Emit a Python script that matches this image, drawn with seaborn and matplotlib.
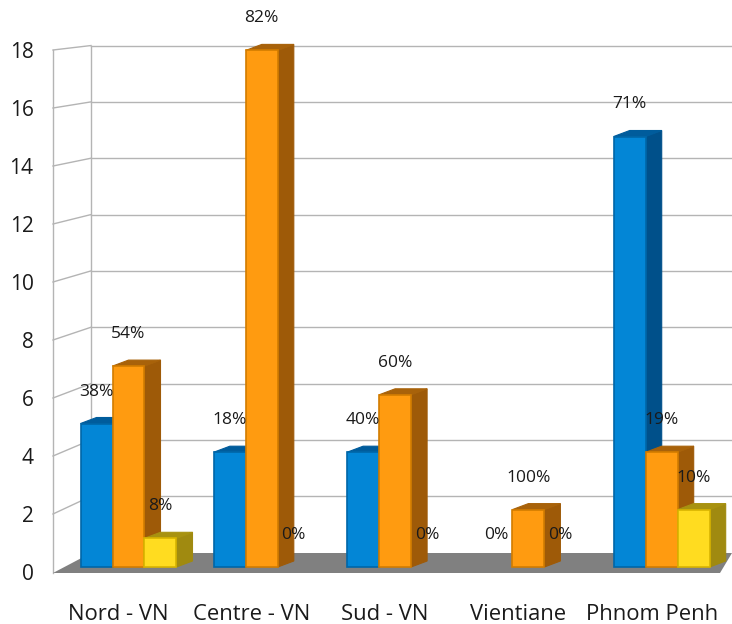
import matplotlib
matplotlib.use("Agg")
import matplotlib.pyplot as plt
import seaborn as sns
import pandas as pd
import numpy as np
from matplotlib.patches import Polygon
from matplotlib.transforms import Affine2D

regions = ["Nord - VN", "Centre - VN", "Sud - VN", "Vientiane", "Phnom Penh"]
series = ["Série 1", "Série 2", "Série 3"]
serie1 = [5, 4, 4, 0, 15]
serie2 = [7, 18, 6, 2, 4]
serie3 = [1, 0, 0, 0, 2]
pct1 = ["38%", "18%", "40%", "0%", "71%"]
pct2 = ["54%", "82%", "60%", "100%", "19%"]
pct3 = ["8%", "0%", "0%", "0%", "10%"]
yticks = list(range(0, 19, 2))

front = ["#0386d6", "#ff9b10", "#ffdc20"]
edges = ["#0066a8", "#d27c00", "#d8b400"]
sides = ["#00508a", "#9e5a08", "#a08a10"]
tops = ["#005c9c", "#a8620a", "#a89210"]

rows = []
for vals, pcts, s in [(serie1, pct1, series[0]), (serie2, pct2, series[1]), (serie3, pct3, series[2])]:
    for r, v, p in zip(regions, vals, pcts):
        rows.append({"region": r, "serie": s, "value": v, "pct": p})
df = pd.DataFrame(rows)

W, H = 732, 624
fig = plt.figure(figsize=(W / 100, H / 100), dpi=100)
plt.rcParams["font.family"] = ["Open Sans", "DejaVu Sans"]

# geometry (pixels, from top-left)
x0_pix, xstep = 128.5, 133.3
base_pix, yscale = 567, 28.7
ax_bottom_pix = 590
ax = fig.add_axes([53 / W, (H - ax_bottom_pix) / H, (W - 53) / W, ax_bottom_pix / H])

sns.barplot(data=df, x="region", y="value", hue="serie", palette=front, saturation=1,
            width=0.72, gap=0, legend=False, ax=ax, order=regions, hue_order=series,
            errorbar=None)

ax.set_xlim(-(x0_pix - 53) / xstep, (W - x0_pix) / xstep)
ax.set_ylim(-(ax_bottom_pix - base_pix) / yscale, base_pix / yscale)

pix = Affine2D().scale(1, -1).translate(0, H)

# walls and floor
grid_c = "#b4b4b4"
def front_y(v):
    return 572 - 29 * v
def back_y(v):
    return 552.6 - 28.17 * v

ax.add_patch(Polygon([(53, 573), (91, 553), (W, 553), (720, 573)], closed=True,
                     facecolor="#808080", edgecolor="none", transform=pix, zorder=1, clip_on=False))
for v in yticks[1:]:
    ax.add_line(plt.Line2D([53, 91], [front_y(v), back_y(v)], color=grid_c, lw=1, transform=pix, zorder=0.5, clip_on=False))
    ax.add_line(plt.Line2D([91, W], [back_y(v), back_y(v)], color=grid_c, lw=1, transform=pix, zorder=0.5, clip_on=False))
ax.add_line(plt.Line2D([53, 53], [front_y(18), 573], color=grid_c, lw=1, transform=pix, zorder=0.5, clip_on=False))
ax.add_line(plt.Line2D([91, 91], [back_y(18), 553], color=grid_c, lw=1, transform=pix, zorder=0.5, clip_on=False))

# 3D faces and labels derived from the bars
dx = 16 / xstep
dy = 6 / yscale
bars = sorted(ax.patches[:15], key=lambda p: p.get_x())
for k, p in enumerate(bars):
    cx = p.get_x() + p.get_width() / 2
    ri = int(round(cx))
    si = int(round((cx - ri) / 0.24)) + 1
    h = p.get_height()
    xa, xb = p.get_x(), p.get_x() + p.get_width()
    p.set_zorder(3 + 3 * k + 2)
    if h > 0:
        p.set_edgecolor(edges[si])
        p.set_linewidth(1.2)
        side = Polygon([(xb, 0), (xb + dx, dy), (xb + dx, h + dy), (xb, h)], closed=True,
                       facecolor=sides[si], edgecolor=sides[si], lw=0.8, zorder=3 + 3 * k)
        top = Polygon([(xa, h), (xa + dx, h + dy), (xb + dx, h + dy), (xb, h)], closed=True,
                      facecolor=tops[si], edgecolor=tops[si], lw=0.8, zorder=3 + 3 * k + 1)
        ax.add_patch(side)
        ax.add_patch(top)
    else:
        p.set_visible(False)
    label = [pct1, pct2, pct3][si][ri]
    ax.text(cx, h + 32 / yscale, label, ha="center", va="center",
            fontsize=12.5, color="#1a1a1a", zorder=100)

ax.set_yticks([(base_pix - front_y(v)) / yscale for v in yticks], labels=[str(v) for v in yticks])
ax.set_xticks(np.arange(len(regions)) - 10 / xstep, labels=regions)
ax.tick_params(axis="y", length=0, pad=14, labelsize=15, labelcolor="#1a1a1a")
ax.tick_params(axis="x", length=0, pad=10, labelsize=15.8, labelcolor="#1a1a1a")
ax.set_xlabel("")
ax.set_ylabel("")
for s in ax.spines.values():
    s.set_visible(False)
ax.patch.set_alpha(0)

fig.savefig("out.png", dpi=100)
